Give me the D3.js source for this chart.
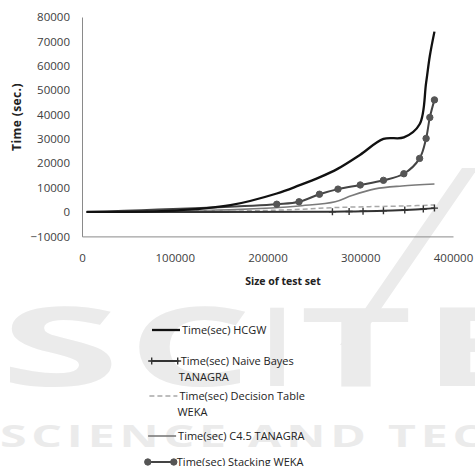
<!DOCTYPE html>
<html>
<head>
<meta charset="utf-8">
<script src="https://cdn.jsdelivr.net/npm/d3@7/dist/d3.min.js"></script>
<style>
  html, body { margin: 0; padding: 0; background: #fff; }
  svg { display: block; }
  text { font-family: "Open Sans", "Liberation Sans", sans-serif; }
</style>
</head>
<body>
<svg id="chart" width="475" height="466"></svg>
<script>
// Running time (seconds) against size of the test set, per classifier
const hcgwSize   = [5000, 100000, 160000, 210000, 234000, 256000, 276000, 300000, 325000, 347000, 364000, 371000, 375000, 380000];
const hcgwTime   = [100, 600, 2800, 7600, 10900, 14200, 17800, 23500, 30000, 30600, 36000, 53000, 64000, 74000];

const naiveSize  = [5000, 270000, 288000, 303000, 325000, 348000, 368000, 380000];
const naiveTime  = [0, 100, 200, 300, 500, 800, 1200, 1600];

const dtableSize = [5000, 180000, 235000, 270000, 310000, 350000, 380000];
const dtableTime = [0, 500, 1100, 1800, 2200, 2500, 2900];

const c45Size    = [5000, 165000, 237000, 273000, 291000, 316000, 345000, 380000];
const c45Time    = [0, 1000, 2600, 4200, 6800, 9500, 10700, 11500];

const stackSize  = [5000, 210000, 234000, 256000, 276000, 300000, 325000, 347000, 364000, 371000, 375000, 380000];
const stackTime  = [0, 3200, 4200, 7300, 9400, 11100, 13000, 15700, 22000, 30200, 38800, 46000];

const seriesNames = [
  "Time(sec) HCGW",
  "Time(sec) Naive Bayes TANAGRA",
  "Time(sec) Decision Table WEKA",
  "Time(sec) C4.5 TANAGRA",
  "Time(sec) Stacking WEKA"
];

const xTicks = [0, 100000, 200000, 300000, 400000];
const yTicks = [-10000, 0, 10000, 20000, 30000, 40000, 50000, 60000, 70000, 80000];

const xTitle = "Size of test set";
const yTitle = "Time (sec.)";

// ---------------------------------------------------------------------------
const svg = d3.select("#chart");

// Background publisher mark
const mark = svg.append("g").attr("fill", "#ebebeb")
  .style("font-family", "'DejaVu Sans', sans-serif").style("font-weight", "bold");
mark.append("path").attr("d", "M462,168 L478,168 L356,345 L340,345 Z");
[["S", 0, 120], ["C", 128, 124], ["I", 262, 30], ["T", 300, 112], ["E", 422, 112]].forEach(([ch, x0, w]) => {
  mark.append("text").attr("x", x0).attr("y", 386).attr("font-size", 110)
    .attr("textLength", w).attr("lengthAdjust", "spacingAndGlyphs").text(ch);
});
mark.append("text").attr("x", 0).attr("y", 447).attr("font-size", 30)
  .attr("textLength", 488).attr("lengthAdjust", "spacingAndGlyphs")
  .style("letter-spacing", "3px").text("SCIENCE AND TEC");

// Plot scales
const x = d3.scaleLinear().domain([0, 400000]).range([82, 453]);
const y = d3.scaleLinear().domain([-10000, 80000]).range([236.4, 17]);

// Axes
const xAxis = svg.append("g").attr("transform", `translate(0,${y(-10000)})`)
  .call(d3.axisBottom(x).tickValues(xTicks).tickSize(0).tickPadding(17).tickFormat(d3.format("d")));
const yAxis = svg.append("g").attr("transform", `translate(${x(0)},0)`)
  .call(d3.axisLeft(y).tickValues(yTicks).tickSize(0).tickPadding(12).tickFormat(d3.format("d")));
[xAxis, yAxis].forEach(a => {
  a.select(".domain").attr("stroke", "#8a8a8a").attr("stroke-width", 1);
  a.selectAll("text").attr("fill", "#404040").style("font-size", "11.5px")
    .style("font-family", "'Open Sans', sans-serif");
});

svg.append("text").attr("x", 283).attr("y", 285).attr("text-anchor", "middle")
  .style("font-size", "10.5px").style("font-weight", "bold").attr("fill", "#222").text(xTitle);
svg.append("text").attr("transform", "translate(21,117) rotate(-90)").attr("text-anchor", "middle")
  .style("font-size", "12px").style("font-weight", "bold").style("letter-spacing", "0.4px")
  .attr("fill", "#222").text(yTitle);

// Series
const series = [
  { name: seriesNames[0], xs: hcgwSize,   ys: hcgwTime,   color: "#111",    width: 2.3, dash: null,  marker: null },
  { name: seriesNames[1], xs: naiveSize,  ys: naiveTime,  color: "#333",    width: 2,   dash: null,  marker: "plus" },
  { name: seriesNames[2], xs: dtableSize, ys: dtableTime, color: "#a8a8a8", width: 1.5, dash: "5,3", marker: null },
  { name: seriesNames[3], xs: c45Size,    ys: c45Time,    color: "#7a7a7a", width: 1.6, dash: null,  marker: null },
  { name: seriesNames[4], xs: stackSize,  ys: stackTime,  color: "#444",    width: 2,   dash: null,  marker: "dot" }
];

const line = d3.line().x(d => x(d[0])).y(d => y(d[1])).curve(d3.curveCatmullRom.alpha(0.5));

function drawMarker(g, kind, px, py, color) {
  if (kind === "dot") {
    g.append("circle").attr("cx", px).attr("cy", py).attr("r", 3.2).attr("fill", "#555").attr("stroke", "#555");
  } else if (kind === "plus") {
    g.append("path").attr("d", `M${px},${py - 3.5}V${py + 3.5}M${px - 3.5},${py}H${px + 3.5}`)
      .attr("stroke", color).attr("stroke-width", 1.4);
  }
}

const plot = svg.append("g");
// draw order: lighter lines underneath, HCGW on top
[3, 2, 1, 4, 0].forEach(i => {
  const s = series[i];
  const pts = d3.zip(s.xs, s.ys);
  const g = plot.append("g");
  g.append("path").datum(pts).attr("d", line).attr("fill", "none")
    .attr("stroke", s.color).attr("stroke-width", s.width)
    .attr("stroke-dasharray", s.dash).attr("stroke-linejoin", "round");
  // the first reading is the shared starting run; its symbol sits under the other lines
  if (s.marker) pts.slice(1).forEach(p => drawMarker(g, s.marker, x(p[0]), y(p[1]), s.color));
});

// Legend
const legendRows = [330, 361, 396, 436, 462];
const legend = svg.append("g");
series.forEach((s, i) => {
  const ly = legendRows[i];
  const x0 = 152 - i * 1.3, x1 = x0 + 28;
  const g = legend.append("g");
  g.append("line").attr("x1", x0).attr("x2", x1).attr("y1", ly).attr("y2", ly)
    .attr("stroke", s.color).attr("stroke-width", s.width).attr("stroke-dasharray", s.dash);
  if (s.marker) { drawMarker(g, s.marker, x0 + 1, ly, s.color); drawMarker(g, s.marker, x1 - 1, ly, s.color); }
  // wrap the label onto a second line when it gets too wide
  const t = g.append("text").attr("x", x1 + 2).attr("y", ly + 4).style("font-size", "11px").attr("fill", "#222");
  const words = s.name.split(" ");
  let cur = [], lines = [];
  words.forEach(w => {
    t.text([...cur, w].join(" "));
    if (cur.length && t.node().getComputedTextLength() > 130) { lines.push(cur.join(" ")); cur = [w]; }
    else cur.push(w);
  });
  lines.push(cur.join(" "));
  t.text(null);
  lines.forEach((l, k) => t.append("tspan").attr("x", x1 + 2 - k * 2).attr("dy", k ? 15.8 : 0).text(l));
});
</script>
</body>
</html>
